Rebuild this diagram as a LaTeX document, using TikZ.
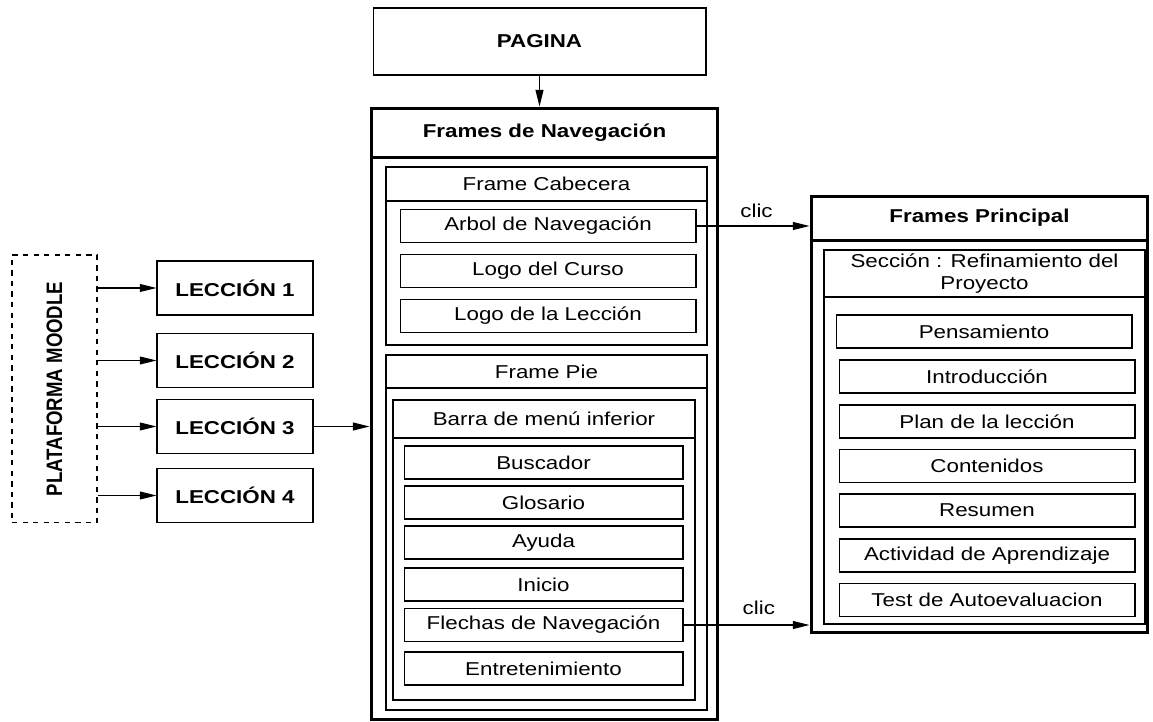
\documentclass[tikz,border=0pt]{standalone}
\usepackage{fontspec}
\setmainfont{Liberation Sans}[FakeStretch=1.2]
\newfontfamily\rotfont{Liberation Sans}
\usepackage{tikz}
\usetikzlibrary{arrows.meta,positioning}
\newcommand{\tam}{\fontsize{10.6}{12.6}\selectfont}

\begin{document}
\begin{tikzpicture}[x=0.02cm,y=-0.02cm,font=\tam,>={Triangle[length=9.5pt,width=4.5pt]},
    caja/.style={draw,line width=0.6pt,minimum height=0.66cm,inner sep=0pt,align=center},
    marco/.style={draw,inner sep=0pt},
    cabeza/.style={draw,inner sep=0pt,anchor=north,align=center},
    leccion/.style={caja,minimum width=3.12cm,minimum height=1.08cm,font=\tam\bfseries},
    flecha/.style={->,line width=0.6pt}]
    \useasboundingbox (0,0) rectangle (1153,722);

    % Pagina y frame de navegacion
    \node[caja,minimum width=6.66cm,minimum height=1.34cm,font=\tam\bfseries] at (539.5,41.5) (pagina) {PAGINA};
    \node[marco,line width=1.7pt,minimum width=6.94cm,minimum height=12.24cm] at (544.5,414) (fnav) {};
    \node[cabeza,line width=1.7pt,minimum width=6.94cm,minimum height=0.98cm,font=\tam\bfseries] at (fnav.north) (fnavt) {Frames de Navegación};

    % Frame cabecera
    \node[marco,line width=0.9pt,minimum width=6.42cm,minimum height=3.56cm] at (546.5,256) (fcab) {};
    \node[cabeza,line width=0.9pt,minimum width=6.42cm,minimum height=0.68cm] at (fcab.north) (fcabt) {Frame Cabecera};
    \node[caja,minimum width=5.92cm] at (548,226) (arbol) {Arbol de Navegación};
    \node[caja,minimum width=5.92cm] at (548,271) (lcurso) {Logo del Curso};
    \node[caja,minimum width=5.92cm] at (548,316) (lleccion) {Logo de la Lección};

    % Frame pie
    \node[marco,line width=0.9pt,minimum width=6.42cm,minimum height=7.1cm] at (546.5,532.5) (fpie) {};
    \node[cabeza,line width=0.9pt,minimum width=6.42cm,minimum height=0.66cm] at (fpie.north) (fpiet) {Frame Pie};
    \node[marco,line width=1.3pt,minimum width=6.04cm,minimum height=6.0cm] at (544,550) (barra) {};
    \node[cabeza,line width=1.3pt,minimum width=6.04cm,minimum height=0.76cm] at (barra.north) (barrat) {Barra de menú inferior};
    \node[caja,minimum width=5.58cm] at (543.5,462.5) (buscador) {Buscador};
    \node[caja,minimum width=5.58cm] at (543.5,502.5) (glosario) {Glosario};
    \node[caja,minimum width=5.58cm] at (543.5,542.5) (ayuda) {Ayuda};
    \node[caja,minimum width=5.58cm] at (543.5,584.5) (inicio) {Inicio};
    \node[caja,minimum width=5.58cm] at (543.5,625) (flechas) {Flechas de Navegación};
    \node[caja,minimum width=5.58cm] at (543.5,668.5) (entret) {Entretenimiento};

    % Plataforma y lecciones
    \node[draw,dashed,line width=0.6pt,minimum width=1.7cm,minimum height=5.36cm] at (54.5,389) (moodle) {};
    \node[rotate=90,yscale=1.2,transform shape,font=\rotfont\tam\bfseries] at (moodle.center) (moodlet) {PLATAFORMA MOODLE};
    \node[leccion] at (235,288) (lec1) {LECCIÓN 1};
    \node[leccion] at (235,360.5) (lec2) {LECCIÓN 2};
    \node[leccion] at (235,426.5) (lec3) {LECCIÓN 3};
    \node[leccion] at (235,495.5) (lec4) {LECCIÓN 4};

    % Frames principal
    \node[marco,line width=1.7pt,minimum width=6.74cm,minimum height=8.74cm] at (979.5,414.5) (fprin) {};
    \node[cabeza,line width=1.7pt,minimum width=6.74cm,minimum height=0.88cm,font=\tam\bfseries] at (fprin.north) (fprint) {Frames Principal};
    \node[marco,line width=1.3pt,minimum width=6.42cm,minimum height=7.48cm] at (984.5,437) (seccion) {};
    \node[cabeza,line width=1.3pt,minimum width=6.42cm,minimum height=0.94cm] at (seccion.north) (secciont) {Sección : Refinamiento del\\Proyecto};
    \node[caja,minimum width=5.92cm] at (984,331.5) (pensam) {Pensamiento};
    \node[caja,minimum width=5.92cm] at (987,376.5) (intro) {Introducción};
    \node[caja,minimum width=5.92cm] at (987,421.5) (plan) {Plan de la lección};
    \node[caja,minimum width=5.92cm] at (987,466) (conten) {Contenidos};
    \node[caja,minimum width=5.92cm] at (987,510.5) (resumen) {Resumen};
    \node[caja,minimum width=5.92cm] at (987,555.5) (activ) {Actividad de Aprendizaje};
    \node[caja,minimum width=5.92cm] at (987,600) (test) {Test de Autoevaluacion};

    % Conexiones
    \draw[flecha] (pagina.south) -- (pagina.south |- fnav.north);
    \foreach \l in {lec1,lec2,lec3,lec4}
        \draw[flecha] (moodle.east |- \l) -- (\l);
    \draw[flecha] (lec3.east) -- (lec3.east -| fnav.west);
    \draw[flecha] (arbol.east) -- node[above=1pt,xshift=2pt]{clic} (arbol.east -| fprin.west);
    \draw[flecha] (flechas.east) -- node[above=2pt,xshift=7pt]{clic} (flechas.east -| fprin.west);
\end{tikzpicture}
\end{document}
